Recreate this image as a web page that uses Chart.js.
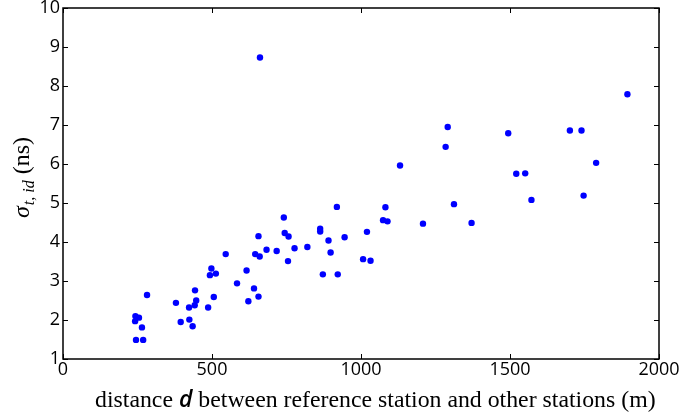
<!DOCTYPE html>
<html>
<head>
<meta charset="utf-8">
<script src="https://cdn.jsdelivr.net/npm/chart.js@4/dist/chart.umd.min.js"></script>
<style>
  html, body { margin: 0; padding: 0; background: #fff; }
  #wrap { width: 687px; height: 418px; }
</style>
</head>
<body>
<div id="wrap"><canvas id="myChart" width="687" height="418"></canvas></div>
<script>
// distance d (m) and sigma_t,id (ns)
var distances = [245, 269, 265, 242, 243, 255, 282, 379, 395, 423, 424, 435, 443, 447, 442,
  487, 506, 498, 493, 513, 546, 584, 616, 622, 641, 656, 645, 660, 656, 683, 717, 741, 744,
  757, 755, 777, 820, 863, 863, 919, 891, 898, 945, 872, 922, 1020, 1007, 1032, 1082, 1074,
  1089, 1208, 1312, 1371, 1572, 1131, 1284, 1291, 1494, 1521, 1551, 1701, 1740, 1789, 1747,
  1894, 661];
var sigmas = [1.49, 1.49, 1.81, 1.97, 2.10, 2.06, 2.64, 2.44, 1.95, 2.32, 2.01, 1.84, 2.76, 2.50, 2.38,
  2.32, 2.59, 3.32, 3.15, 3.19, 3.69, 2.94, 3.27, 2.48, 2.81, 2.60, 3.69, 3.63, 4.15, 3.80, 3.77, 4.63, 4.23,
  4.14, 3.51, 3.84, 3.87, 4.34, 4.27, 4.90, 4.04, 3.73, 4.12, 3.17, 3.17, 4.26, 3.56, 3.52, 4.89, 4.56,
  4.53, 4.47, 4.97, 4.49, 5.08, 5.96, 6.44, 6.95, 6.79, 5.75, 5.76, 6.86, 6.86, 6.03, 5.19,
  7.79, 8.73];

var xTicks = [0, 500, 1000, 1500, 2000];
var yTicks = [1, 2, 3, 4, 5, 6, 7, 8, 9, 10];

var points = distances.map(function(d, i) {
  return { x: d, y: sigmas[i] };
});

var tickFont = { family: 'Open Sans', size: 18 };

// frame on all four sides, inward ticks and the two axis titles
const frameAndTitles = {
  id: 'frameAndTitles',
  afterDraw(chart) {
    const {ctx, chartArea: {left, top, right, bottom}} = chart;
    const xs = chart.scales.x, ys = chart.scales.y;
    ctx.save();
    ctx.strokeStyle = 'black';
    ctx.lineWidth = 1.5;
    ctx.strokeRect(left, top, right - left, bottom - top);
    ctx.lineWidth = 1;
    ctx.beginPath();
    xTicks.forEach(function(v) {
      var px = Math.round(xs.getPixelForValue(v)) + 0.5;
      ctx.moveTo(px, bottom); ctx.lineTo(px, bottom - 5);
      ctx.moveTo(px, top); ctx.lineTo(px, top + 5);
    });
    yTicks.forEach(function(v) {
      var py = Math.round(ys.getPixelForValue(v)) + 0.5;
      ctx.moveTo(left, py); ctx.lineTo(left + 5, py);
      ctx.moveTo(right, py); ctx.lineTo(right - 5, py);
    });
    ctx.stroke();

    // x title
    ctx.fillStyle = 'black';
    ctx.textBaseline = 'alphabetic';
    ctx.textAlign = 'left';
    var serif = '23.8px "Liberation Serif"';
    var dFont = 'italic 600 23px "Open Sans"';
    var partA = 'distance ', partD = 'd', partB = ' between reference station and other stations (m)';
    ctx.font = serif;
    var wA = ctx.measureText(partA).width;
    ctx.font = dFont;
    var wD = ctx.measureText(partD).width;
    var x0 = 95, by = 407;
    ctx.font = serif;
    ctx.fillText(partA, x0, by);
    ctx.font = dFont;
    ctx.fillText(partD, x0 + wA, by);
    ctx.font = serif;
    ctx.fillText(partB, x0 + wA + wD, by);

    // y title: sigma with subscript t, id
    ctx.translate(29, 178);
    ctx.rotate(-Math.PI / 2);
    var sFont = 'italic 24px "Liberation Serif"';
    var subFont = 'italic 16px "Liberation Serif"';
    var uFont = '24px "Liberation Serif"';
    var sig = '\u03c3', sub = 't, id', unit = ' (ns)';
    ctx.font = sFont; var w1 = ctx.measureText(sig).width;
    ctx.font = subFont; var w2 = ctx.measureText(sub).width;
    ctx.font = uFont; var w3 = ctx.measureText(unit).width;
    var sx = -(w1 + w2 + w3) / 2;
    ctx.font = sFont; ctx.fillText(sig, sx, 0);
    ctx.font = subFont; ctx.fillText(sub, sx + w1 + 1, 5);
    ctx.font = uFont; ctx.fillText(unit, sx + w1 + w2 + 1, 0);
    ctx.restore();
  }
};

var myChart = new Chart(document.getElementById('myChart'), {
  type: 'scatter',
  data: {
    datasets: [{
      label: 'sigma',
      data: points,
      backgroundColor: '#0000ff',
      borderWidth: 0,
      pointRadius: 3.2,
      pointHoverRadius: 3.2
    }]
  },
  options: {
    responsive: false,
    animation: false,
    events: [],
    layout: { padding: { top: 8, right: 28, left: 0, bottom: 0 } },
    plugins: {
      legend: { display: false },
      tooltip: { enabled: false }
    },
    scales: {
      x: {
        type: 'linear',
        min: 0,
        max: 2000,
        afterBuildTicks: function(scale) {
          scale.ticks = xTicks.map(function(v) { return { value: v }; });
        },
        ticks: {
          font: tickFont, color: 'black', padding: 0, maxRotation: 0,
          callback: function(v) { return String(v); }
        },
        grid: { drawOnChartArea: false, drawTicks: false },
        border: { display: false },
        afterFit: function(scale) {
          scale.height = 59;
          scale.paddingLeft = 0; scale.paddingRight = 0;
        }
      },
      y: {
        type: 'linear',
        min: 1,
        max: 10,
        afterBuildTicks: function(scale) {
          scale.ticks = yTicks.map(function(v) { return { value: v }; });
        },
        ticks: {
          font: tickFont, color: 'black', padding: 3,
          callback: function(v) { return String(v); }
        },
        grid: { drawOnChartArea: false, drawTicks: false },
        border: { display: false },
        afterFit: function(scale) {
          scale.width = 63;
          scale.paddingTop = 0; scale.paddingBottom = 0;
        }
      }
    }
  },
  plugins: [frameAndTitles]
});
</script>
</body>
</html>
